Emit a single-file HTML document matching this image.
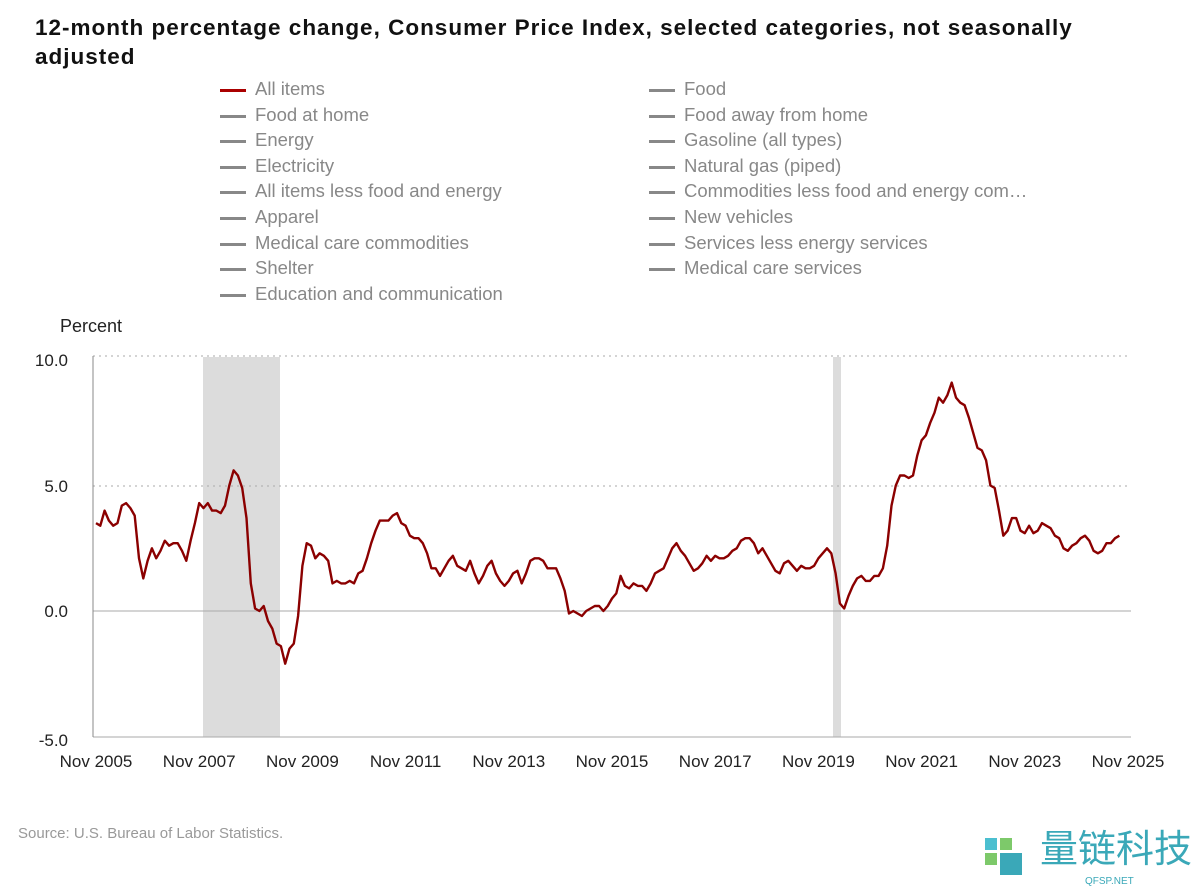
<!DOCTYPE html>
<html><head><meta charset="utf-8"><style>
body{margin:0;width:1200px;height:891px;background:#fff;font-family:"Liberation Sans",sans-serif;position:relative;overflow:hidden}
.t{position:absolute;left:35px;top:13px;font-size:22.5px;font-weight:bold;color:#111;line-height:29px;width:1150px;letter-spacing:1px}
.lg{position:absolute;font-size:18.5px;color:#888;white-space:nowrap}
.lg i{position:absolute;left:-35px;top:11px;width:26px;height:3px;background:#888}
.src{position:absolute;left:18px;top:825px;font-size:15px;color:#999}
</style></head><body>
<div class="t">12-month percentage change, Consumer Price Index, selected categories, not seasonally<br>adjusted</div>
<div id="leg"></div>
<svg width="1200" height="891" style="position:absolute;left:0;top:0" id="s" font-family="Liberation Sans, sans-serif">
<rect x="203" y="357" width="77" height="380" fill="#dcdcdc"/>
<rect x="833" y="357" width="8" height="380" fill="#dcdcdc"/>
<line x1="93" x2="1131" y1="356" y2="356" stroke="#aaa" stroke-dasharray="2,4"/>
<line x1="93" x2="1131" y1="486" y2="486" stroke="#aaa" stroke-dasharray="2,4"/>
<line x1="93" x2="1131" y1="611" y2="611" stroke="#aaa"/>
<line x1="93" x2="1131" y1="737" y2="737" stroke="#aaa"/>
<line x1="93" x2="93" y1="356" y2="737" stroke="#888"/>
<text x="60" y="332" font-size="18" fill="#222">Percent</text>
<g font-size="17" fill="#222" text-anchor="end">
<text x="68" y="366">10.0</text><text x="68" y="492">5.0</text><text x="68" y="617">0.0</text><text x="68" y="746">-5.0</text></g>
<g id="xl" font-size="17" fill="#222" text-anchor="middle"></g>
<polyline id="ln" fill="none" stroke="#8b0000" stroke-width="2.4" stroke-linejoin="round"/>
<text x="1040" y="862" font-size="38" fill="#3aa8b8" font-family="Noto Sans CJK SC, sans-serif">量链科技</text>
<text x="1085" y="884" font-size="10" fill="#3aa8b8">QFSP.NET</text>
<rect x="985" y="838" width="12" height="12" fill="#4bbfd0"/><rect x="1000" y="838" width="12" height="12" fill="#7dc96a"/>
<rect x="985" y="853" width="12" height="12" fill="#7dc96a"/><rect x="1000" y="853" width="22" height="22" fill="#3aa8b8"/>
</svg>
<div class="src">Source: U.S. Bureau of Labor Statistics.</div>
<script>
var L=["All items","Food","Food at home","Food away from home","Energy","Gasoline (all types)","Electricity","Natural gas (piped)","All items less food and energy","Commodities less food and energy com…","Apparel","New vehicles","Medical care commodities","Services less energy services","Shelter","Medical care services","Education and communication"];
var h="";L.forEach(function(t,i){var c=i%2,r=Math.floor(i/2);var st=i==0?' style="color:#1a237e"':'';var bs=i==0?' style="background:#a00"':'';h+='<div class="lg" style="left:'+(c?684:255)+'px;top:'+(78+r*25.6)+'px"'+st+'><i'+bs+'></i>'+t+'</div>'});
document.getElementById('leg').innerHTML=h;
var d=[3.5,3.4,4.0,3.6,3.4,3.5,4.2,4.3,4.1,3.8,2.1,1.3,2.0,2.5,2.1,2.4,2.8,2.6,2.7,2.7,2.4,2.0,2.8,3.5,4.3,4.1,4.3,4.0,4.0,3.9,4.2,5.0,5.6,5.4,4.9,3.7,1.1,0.1,0.0,0.2,-0.4,-0.7,-1.3,-1.4,-2.1,-1.5,-1.3,-0.2,1.8,2.7,2.6,2.1,2.3,2.2,2.0,1.1,1.2,1.1,1.1,1.2,1.1,1.5,1.6,2.1,2.7,3.2,3.6,3.6,3.6,3.8,3.9,3.5,3.4,3.0,2.9,2.9,2.7,2.3,1.7,1.7,1.4,1.7,2.0,2.2,1.8,1.7,1.6,2.0,1.5,1.1,1.4,1.8,2.0,1.5,1.2,1.0,1.2,1.5,1.6,1.1,1.5,2.0,2.1,2.1,2.0,1.7,1.7,1.7,1.3,0.8,-0.1,0.0,-0.1,-0.2,0.0,0.1,0.2,0.2,0.0,0.2,0.5,0.7,1.4,1.0,0.9,1.1,1.0,1.0,0.8,1.1,1.5,1.6,1.7,2.1,2.5,2.7,2.4,2.2,1.9,1.6,1.7,1.9,2.2,2.0,2.2,2.1,2.1,2.2,2.4,2.5,2.8,2.9,2.9,2.7,2.3,2.5,2.2,1.9,1.6,1.5,1.9,2.0,1.8,1.6,1.8,1.7,1.7,1.8,2.1,2.3,2.5,2.3,1.5,0.3,0.1,0.6,1.0,1.3,1.4,1.2,1.2,1.4,1.4,1.7,2.6,4.2,5.0,5.4,5.4,5.3,5.4,6.2,6.8,7.0,7.5,7.9,8.5,8.3,8.6,9.1,8.5,8.3,8.2,7.7,7.1,6.5,6.4,6.0,5.0,4.9,4.0,3.0,3.2,3.7,3.7,3.2,3.1,3.4,3.1,3.2,3.5,3.4,3.3,3.0,2.9,2.5,2.4,2.6,2.7,2.9,3.0,2.8,2.4,2.3,2.4,2.7,2.7,2.9,3.0];
var p=d.map(function(v,i){return (96+i*4.3).toFixed(1)+","+(611-v*25.1).toFixed(1)}).join(" ");
document.getElementById('ln').setAttribute('points',p);
var g="";for(var k=0;k<11;k++){g+='<text x="'+(96+k*103.2)+'" y="767">Nov '+(2005+2*k)+'</text>'}
document.getElementById('xl').innerHTML=g;
</script>
</body></html>
